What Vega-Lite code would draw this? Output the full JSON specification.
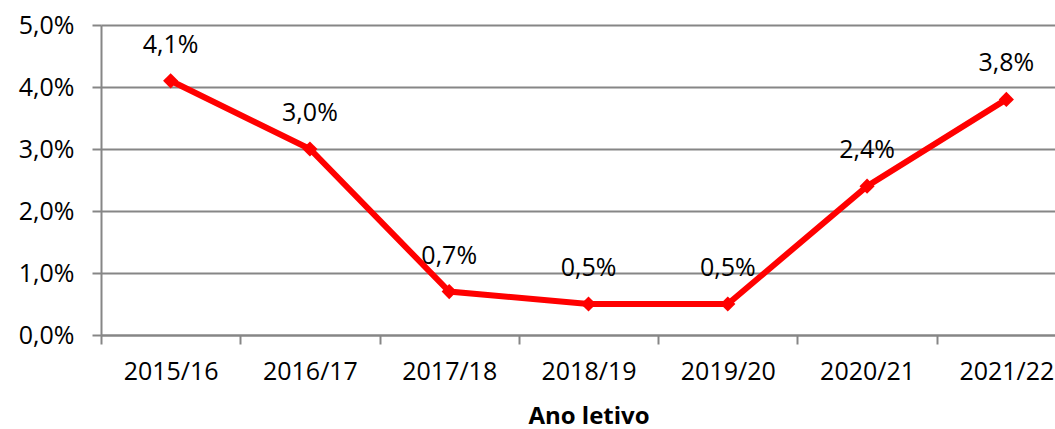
{
  "$schema": "https://vega.github.io/schema/vega-lite/v6.json",
  "width": 975,
  "height": 310,
  "autosize": {"type": "none"},
  "padding": {"left": 101, "top": 25, "right": 0, "bottom": 94},
  "background": "white",
  "config": {
    "view": {"stroke": null},
    "font": "Open Sans"
  },
  "data": {
    "values": [
      {"ano": "2015/16", "taxa": 0.041, "rotulo": "4,1%"},
      {"ano": "2016/17", "taxa": 0.030, "rotulo": "3,0%"},
      {"ano": "2017/18", "taxa": 0.007, "rotulo": "0,7%"},
      {"ano": "2018/19", "taxa": 0.005, "rotulo": "0,5%"},
      {"ano": "2019/20", "taxa": 0.005, "rotulo": "0,5%"},
      {"ano": "2020/21", "taxa": 0.024, "rotulo": "2,4%"},
      {"ano": "2021/22", "taxa": 0.038, "rotulo": "3,8%"}
    ]
  },
  "encoding": {
    "x": {
      "field": "ano",
      "type": "ordinal",
      "sort": null,
      "scale": {"type": "band", "paddingInner": 0, "paddingOuter": 0},
      "axis": {
        "title": "Ano letivo",
        "titleFont": "Open Sans",
        "titleFontSize": 24,
        "titleFontWeight": "bold",
        "titleColor": "#000000",
        "titlePadding": 20,
        "labelAngle": 0,
        "labelFont": "Open Sans",
        "labelFontSize": 25,
        "labelColor": "#000000",
        "labelPadding": 15,
        "tickBand": "extent",
        "tickSize": 9,
        "tickWidth": 2,
        "tickColor": "#868686",
        "domainColor": "#868686",
        "domainWidth": 2,
        "grid": false
      }
    },
    "y": {
      "field": "taxa",
      "type": "quantitative",
      "scale": {"domain": [0, 0.05], "nice": false},
      "axis": {
        "title": null,
        "values": [0, 0.01, 0.02, 0.03, 0.04, 0.05],
        "labelExpr": "replace(format(datum.value * 100, '.1f'), '.', ',') + '%'",
        "labelFont": "Open Sans",
        "labelFontSize": 25,
        "labelColor": "#000000",
        "labelPadding": 18,
        "tickSize": 9,
        "tickWidth": 2,
        "tickColor": "#868686",
        "domainColor": "#868686",
        "domainWidth": 2,
        "grid": true,
        "gridColor": "#868686",
        "gridWidth": 2
      }
    }
  },
  "layer": [
    {
      "mark": {"type": "line", "color": "#ff0000", "strokeWidth": 6}
    },
    {
      "mark": {"type": "point", "shape": "diamond", "filled": true, "color": "#ff0000", "size": 230, "opacity": 1}
    },
    {
      "mark": {"type": "text", "baseline": "alphabetic", "align": "center", "dy": -28, "font": "Open Sans", "fontSize": 25, "color": "#000000"},
      "encoding": {"text": {"field": "rotulo"}}
    }
  ]
}
